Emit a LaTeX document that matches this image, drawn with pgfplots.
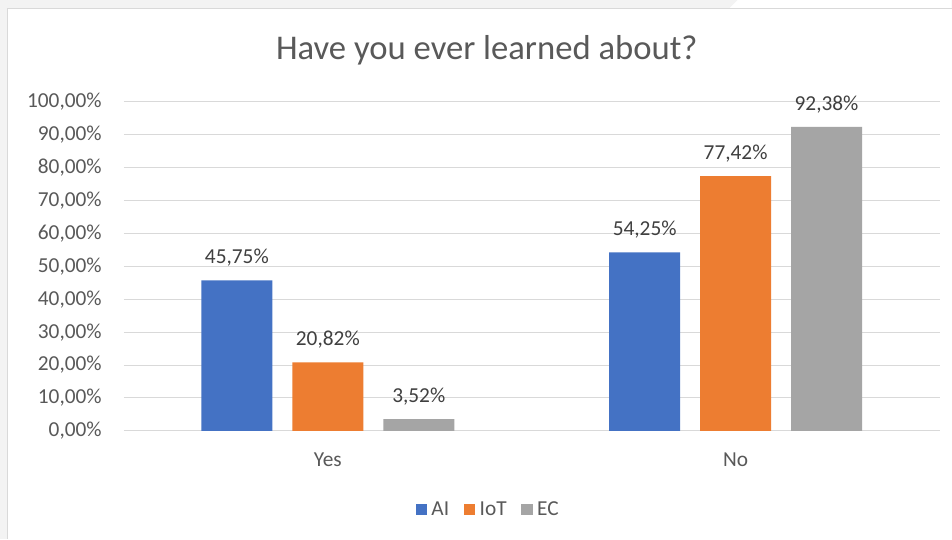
\documentclass[border=0pt]{standalone}
\usepackage{pgfplots}
\pgfplotsset{compat=1.18}
\usepackage{fontspec}
\setmainfont{Carlito}
\definecolor{cAI}{HTML}{4472C4}
\definecolor{cIoT}{HTML}{ED7D31}
\definecolor{cEC}{HTML}{A5A5A5}
\definecolor{gridc}{HTML}{D9D9D9}
\definecolor{txt}{HTML}{595959}
\definecolor{lbl}{HTML}{404040}
\definecolor{bgc}{HTML}{F3F3F3}
\begin{document}
\begin{tikzpicture}[x=0.75pt,y=0.75pt]
\fill[bgc] (0,0) rectangle (952,539);
\fill[white] (8,0) rectangle (952,530);
\fill[white] (729,530) -- (738,539) -- (952,539) -- (952,530) -- cycle;
\draw[gridc, line width=0.75pt] (8,0) -- (8,530) -- (952,530);
\path (0,0) rectangle (952,539);
\node[anchor=base, text=txt, font=\fontsize{26}{30}\selectfont] at (487,479) {Have you ever learned about?};
\begin{axis}[
  at={(93pt,81pt)}, anchor=south west,
  scale only axis, width=612pt, height=246.75pt,
  xmin=-0.5, xmax=1.5, ymin=0, ymax=100,
  ybar=15pt, bar width=53.25pt,
  xtick={0,1}, xticklabels={Yes,No},
  ytick={0,10,...,100},
  yticklabel={\pgfmathprintnumber[fixed,fixed zerofill,precision=2,use comma]{\tick}\%},
  /pgf/number format/assume math mode=true,
  ymajorgrids, grid style={gridc, line width=0.75pt},
  axis line style={draw=none},
  major tick length=0pt,
  tick label style={text=txt, font=\fontsize{16}{19}\selectfont},
  yticklabel style={anchor=east, inner sep=0pt, xshift=-16.5pt},
  xticklabel style={anchor=base, inner sep=0pt, yshift=-27pt},
  nodes near coords={\pgfmathprintnumber[fixed,fixed zerofill,precision=2,use comma]{\pgfplotspointmeta}\%},
  nodes near coords style={anchor=base, inner sep=0pt, yshift=12.75pt, text=lbl, font=\fontsize{16}{19}\selectfont},
  legend columns=3,
  legend style={at={(0.4470,-0.240)}, anchor=center, draw=none, fill=none,
    font=\fontsize{16}{19}\selectfont, text=txt,
    /tikz/every odd column/.append style={column sep=1.5pt},
    /tikz/every even column/.append style={column sep=9pt}},
  legend image code/.code={\fill[#1] (0pt,-4.2pt) rectangle (8.4pt,4.2pt);},
]
\addplot[fill=cAI, draw=none] coordinates {(0,45.75) (1,54.25)};
\addplot[fill=cIoT, draw=none] coordinates {(0,20.82) (1,77.42)};
\addplot[fill=cEC, draw=none] coordinates {(0,3.52) (1,92.38)};
\legend{AI,IoT,EC}
\end{axis}
\end{tikzpicture}
\end{document}
